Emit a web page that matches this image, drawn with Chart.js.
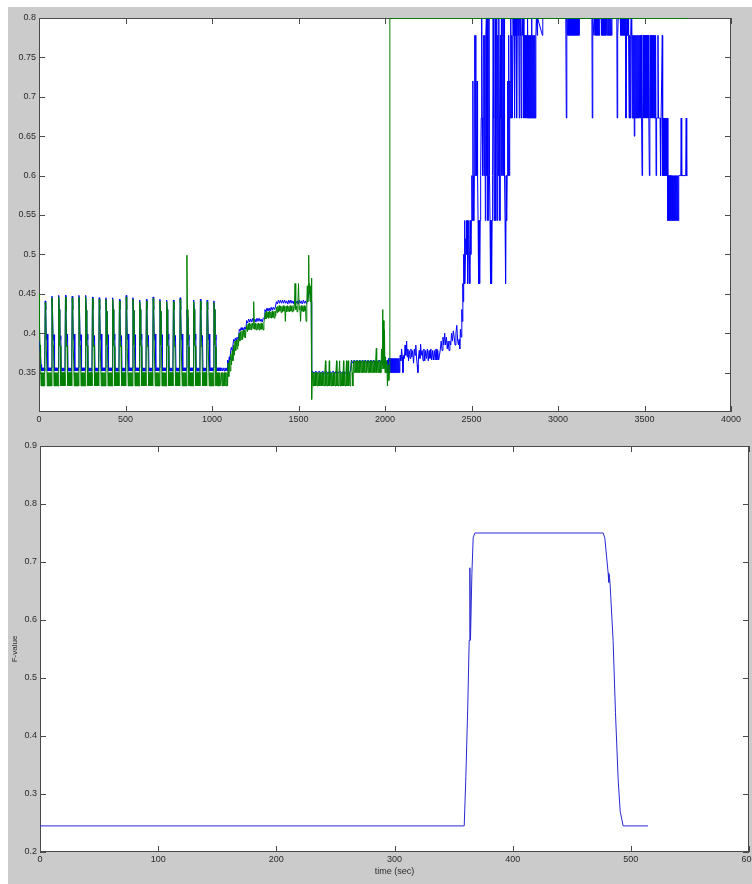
<!DOCTYPE html>
<html>
<head>
<meta charset="utf-8">
<script src="https://cdn.jsdelivr.net/npm/chart.js@4.4.1/dist/chart.umd.min.js"></script>
<style>
  html, body { margin: 0; padding: 0; width: 752px; height: 884px; overflow: hidden; background: #ffffff; }
  #fig { position: absolute; left: 8px; top: 7px; right: 0; bottom: 0; background: #cbcbcb; }
  canvas { position: absolute; left: 0; }
  #topPlot { top: 0; width: 752px; height: 440px; }
  #bottomPlot { top: 430px; width: 770px; height: 454px; }
</style>
</head>
<body>
<div id="fig"></div>
<canvas id="topPlot" width="752" height="440"></canvas>
<canvas id="bottomPlot" width="770" height="454"></canvas>
<script>
// ---------- upper panel: two traces over 0..3750 s ----------
// periodic part (0..1047), one sample every STEP_A seconds
const STEP_A = 3;
const blueA = [
  .39,.386,.38,.372,.36,.352,.356,.352,.356,.352,.356,.352,
  .441,.43,.399,.392,.399,.352,.356,.352,.356,.352,.356,.352,.356,
  .447,.43,.398,.391,.398,.352,.356,.352,.356,.352,.356,.352,.356,
  .448,.43,.399,.392,.397,.352,.356,.352,.356,.352,.356,.352,.356,
  .448,.428,.397,.39,.399,.352,.356,.352,.356,.352,.356,.352,.356,
  .447,.43,.399,.392,.399,.352,.356,.352,.356,.352,.356,.352,.356,
  .448,.43,.398,.391,.398,.352,.356,.352,.356,.352,.356,.352,.356,
  .448,.429,.399,.392,.399,.352,.356,.352,.356,.352,.356,.352,.356,
  .446,.43,.397,.39,.397,.352,.356,.352,.356,.352,.356,.352,.356,
  .445,.43,.399,.392,.399,.352,.356,.352,.356,.352,.356,.352,.356,
  .445,.428,.398,.391,.398,.352,.356,.352,.356,.352,.356,.352,.356,
  .445,.43,.399,.392,.399,.352,.356,.352,.356,.352,.356,.352,.356,
  .443,.43,.397,.39,.397,.352,.356,.352,.356,.352,.356,.352,.356,
  .448,.43,.399,.392,.399,.352,.356,.352,.356,.352,.356,.352,.356,
  .445,.429,.398,.391,.398,.352,.356,.352,.356,.352,.356,.352,.356,
  .442,.43,.399,.392,.399,.352,.356,.352,.356,.352,.356,.352,.356,
  .443,.43,.397,.39,.397,.352,.356,.352,.356,.352,.356,.352,.356,
  .446,.43,.399,.392,.399,.352,.356,.352,.356,.352,.356,.352,.356,
  .443,.428,.398,.391,.398,.352,.356,.352,.356,.352,.356,.352,.356,
  .442,.43,.399,.392,.399,.352,.356,.352,.356,.352,.356,.352,.356,
  .442,.43,.397,.39,.397,.352,.356,.352,.356,.352,.356,.352,.356,
  .445,.43,.399,.392,.399,.352,.356,.352,.356,.352,.356,.352,.356,
  .43,.42,.398,.391,.398,.352,.356,.352,.356,.352,.356,.352,.356,
  .442,.43,.399,.392,.399,.352,.356,.352,.356,.352,.356,.352,.356,
  .443,.429,.397,.39,.397,.352,.356,.352,.356,.352,.356,.352,.356,
  .442,.43,.399,.392,.399,.352,.356,.352,.356,.352,.356,.352,.356,
  .441,.43,.398,.391,.398,.352,.356,.352,.356,.352,.356,.352,.356
];
const greenA = [
  .45,.41,.385,.36,.333,.35,.333,.35,.333,.35,.333,.35,
  .439,.43,.384,.384,.333,.35,.333,.35,.333,.35,.333,.35,.333,
  .445,.43,.385,.383,.333,.35,.333,.35,.333,.35,.333,.35,.333,
  .446,.43,.384,.384,.333,.35,.333,.35,.333,.35,.333,.35,.333,
  .446,.428,.383,.384,.333,.35,.333,.35,.333,.35,.333,.35,.333,
  .445,.43,.384,.384,.333,.35,.333,.35,.333,.35,.333,.35,.333,
  .446,.43,.385,.383,.333,.35,.333,.35,.333,.35,.333,.35,.333,
  .446,.429,.384,.384,.333,.35,.333,.35,.333,.35,.333,.35,.333,
  .444,.43,.383,.384,.333,.35,.333,.35,.333,.35,.333,.35,.333,
  .443,.43,.384,.384,.333,.35,.333,.35,.333,.35,.333,.35,.333,
  .443,.428,.385,.383,.333,.35,.333,.35,.333,.35,.333,.35,.333,
  .443,.43,.384,.384,.333,.35,.333,.35,.333,.35,.333,.35,.333,
  .441,.43,.383,.384,.333,.35,.333,.35,.333,.35,.333,.35,.333,
  .446,.43,.384,.384,.333,.35,.333,.35,.333,.35,.333,.35,.333,
  .443,.429,.385,.383,.333,.35,.333,.35,.333,.35,.333,.35,.333,
  .44,.43,.384,.384,.333,.35,.333,.35,.333,.35,.333,.35,.333,
  .441,.43,.383,.384,.333,.35,.333,.35,.333,.35,.333,.35,.333,
  .444,.43,.384,.384,.333,.35,.333,.35,.333,.35,.333,.35,.333,
  .441,.428,.385,.383,.333,.35,.333,.35,.333,.35,.333,.35,.333,
  .44,.43,.384,.384,.333,.35,.333,.35,.333,.35,.333,.35,.333,
  .44,.43,.383,.384,.333,.35,.333,.35,.333,.35,.333,.35,.333,
  .443,.43,.384,.384,.333,.35,.333,.35,.333,.35,.333,.35,.333,
  .499,.43,.385,.383,.333,.35,.333,.35,.333,.35,.333,.35,.333,
  .44,.43,.384,.384,.333,.35,.333,.35,.333,.35,.333,.35,.333,
  .441,.429,.383,.384,.333,.35,.333,.35,.333,.35,.333,.35,.333,
  .44,.43,.384,.384,.333,.35,.333,.35,.333,.35,.333,.35,.333,
  .439,.43,.385,.383,.333,.35,.333,.35,.333,.35,.333,.35,.333
];

// ramp, drop and rise (1050..3750), as [time, value] pairs
const blueRest = [
  [1050,.352],[1055,.356],[1060,.352],[1065,.356],[1070,.352],[1075,.356],[1080,.352],[1085,.356],[1088,.352],
  [1090,.366],[1095,.362],[1100,.37],[1104,.366],[1108,.378],[1112,.382],[1116,.378],[1120,.383],[1125,.392],
  [1130,.39],[1135,.394],[1140,.39],[1145,.395],[1152,.392],[1158,.405],[1163,.403],[1168,.407],[1173,.404],
  [1178,.407],[1184,.404],[1190,.408],[1196,.405],[1200,.416],[1206,.413],[1212,.418],[1218,.414],[1224,.418],
  [1230,.414],[1236,.419],[1242,.415],[1248,.418],[1254,.414],[1260,.419],[1266,.415],[1272,.419],[1278,.415],
  [1284,.418],[1290,.414],[1296,.419],[1302,.42],[1306,.43],[1312,.427],[1318,.432],[1324,.428],[1330,.432],
  [1336,.428],[1342,.433],[1348,.429],[1354,.433],[1360,.43],[1366,.433],[1372,.44],[1378,.437],[1384,.442],
  [1390,.438],[1396,.442],[1402,.438],[1408,.442],[1414,.438],[1420,.442],[1426,.438],[1432,.441],[1438,.437],
  [1444,.442],[1450,.438],[1456,.442],[1462,.438],[1468,.441],[1474,.437],[1480,.442],[1486,.438],[1492,.441],
  [1498,.437],[1504,.442],[1510,.438],[1516,.441],[1522,.437],[1528,.442],[1534,.438],[1540,.441],[1546,.437],
  [1552,.442],[1558,.448],[1564,.455],[1570,.45],[1574,.44],[1576,.35],
  [1580,.352],[1590,.349],[1600,.352],[1610,.349],[1620,.352],[1630,.349],[1640,.352],[1650,.349],[1660,.352],
  [1670,.349],[1680,.352],[1690,.349],[1700,.352],[1710,.349],[1720,.352],[1730,.349],[1740,.352],[1750,.349],
  [1760,.352],[1770,.349],[1780,.352],[1790,.349],[1800,.352],[1806,.366],[1814,.362],[1822,.366],[1830,.362],
  [1838,.366],[1846,.362],[1854,.366],[1862,.362],[1870,.366],[1878,.362],[1886,.366],[1894,.362],[1902,.366],
  [1910,.362],[1918,.366],[1926,.362],[1934,.366],[1942,.362],[1950,.366],[1958,.362],[1966,.366],[1974,.362],
  [1982,.366],[1990,.362],[1998,.366],[2006,.362],[2014,.366],
  [2017,.35],[2020,.368],[2023,.35],[2026,.368],[2029,.35],[2032,.368],[2035,.35],[2038,.368],[2041,.35],
  [2044,.368],[2047,.35],[2050,.368],[2053,.35],[2056,.368],[2059,.35],[2062,.368],[2065,.35],[2068,.368],
  [2071,.35],[2074,.368],[2077,.35],[2080,.368],[2083,.35],[2086,.368],
  [2088,.372],[2092,.365],[2096,.38],[2100,.37],[2104,.35],[2108,.372],[2112,.368],[2116,.385],[2120,.372],
  [2125,.39],[2128,.37],[2132,.38],[2136,.365],[2140,.378],[2145,.368],[2150,.38],[2155,.37],[2160,.378],
  [2165,.362],[2170,.38],[2174,.372],[2178,.385],[2182,.37],[2186,.36],[2190,.35],[2194,.37],[2198,.378],
  [2202,.368],[2206,.386],[2210,.372],[2215,.378],[2220,.365],[2225,.38],[2230,.365],[2235,.378],[2240,.368],
  [2245,.38],[2250,.365],[2255,.378],[2260,.368],[2265,.38],[2270,.366],[2275,.378],[2280,.366],[2285,.378],
  [2290,.366],[2295,.38],[2300,.366],[2305,.378],[2310,.366],[2315,.372],[2320,.38],[2325,.39],[2330,.378],
  [2335,.395],[2340,.385],[2345,.4],[2350,.385],[2355,.395],[2360,.38],[2365,.39],[2370,.378],[2375,.39],
  [2380,.385],[2385,.4],[2390,.39],[2395,.403],[2400,.395],[2405,.385],[2410,.4],[2415,.41],[2420,.39],
  [2425,.385],[2428,.392],
  [2432,.38],[2436,.405],[2440,.395],[2444,.43],[2447,.415],[2450,.463],[2452,.44],[2455,.5],[2457,.463],
  [2460,.543],[2462,.463],[2465,.5],[2467,.52],[2469,.5],[2471,.543],[2473,.5],[2476,.543],[2478,.463],
  [2481,.5],[2484,.543],[2487,.5],[2490,.463],[2493,.543],[2496,.5],[2499,.543],[2502,.6],[2505,.543],
  [2508,.72],[2510,.6],[2513,.543],[2516,.6],[2519,.778],[2521,.6],[2524,.778],[2526,.673],[2529,.6],
  [2532,.72],[2535,.6],[2538,.543],[2541,.463],[2544,.543],[2547,.463],[2550,.543],[2553,.6],[2556,.673],
  [2559,.8],[2562,.673],[2565,.6],[2568,.673],[2571,.778],[2574,.6],[2577,.778],[2580,.543],[2583,.778],
  [2586,.8],[2589,.6],[2592,.8],[2595,.543],[2598,.6],[2601,.8],[2604,.6],[2607,.543],[2610,.463],
  [2613,.543],[2616,.463],[2619,.543],[2622,.6],[2625,.8],[2628,.673],[2631,.543],[2634,.6],[2637,.8],
  [2640,.543],[2643,.673],[2646,.8],[2649,.543],[2652,.778],[2655,.6],[2658,.8],[2661,.673],[2664,.543],
  [2667,.778],[2670,.673],[2673,.8],[2676,.6],[2679,.673],[2682,.8],[2685,.6],[2688,.8],[2691,.6],
  [2694,.543],[2697,.463],[2700,.6],[2703,.543],[2706,.6],[2709,.72],[2712,.6],[2715,.778],[2718,.6],
  [2721,.72],[2724,.673],[2727,.8],[2730,.673],[2733,.778],[2736,.673],[2740,.8],
  [2743,.778],[2746,.8],[2749,.673],[2752,.8],[2755,.778],[2758,.8],[2761,.673],[2764,.778],[2767,.8],
  [2770,.778],[2773,.8],[2776,.673],[2779,.8],[2782,.778],[2785,.8],[2788,.673],[2791,.778],[2794,.8],
  [2797,.778],[2800,.8],[2803,.673],[2806,.778],[2809,.673],[2812,.778],[2815,.673],[2818,.778],[2821,.673],
  [2824,.8],[2827,.673],[2830,.778],[2833,.673],[2836,.778],[2839,.673],[2842,.778],[2845,.673],[2848,.8],
  [2851,.673],[2854,.778],[2857,.673],[2860,.778],[2863,.673],[2866,.778],[2869,.673],[2872,.778],[2875,.8],
  [2880,.778],[2882,.8],[2910,.778],[2912,.8],[3045,.8],[3048,.673],[3050,.778],[3052,.8],
  [3055,.778],[3058,.8],[3061,.778],[3064,.8],[3067,.778],[3070,.8],[3073,.778],[3076,.8],[3079,.778],
  [3082,.8],[3085,.778],[3088,.8],[3091,.778],[3094,.8],[3097,.778],[3100,.8],[3103,.778],[3106,.8],
  [3109,.778],[3112,.8],[3115,.778],[3118,.8],[3121,.778],[3124,.8],
  [3196,.8],[3198,.673],[3200,.778],[3202,.8],
  [3208,.778],[3211,.8],[3214,.778],[3217,.8],[3220,.778],[3223,.8],[3226,.778],[3229,.8],[3232,.778],
  [3235,.8],[3238,.778],[3241,.8],[3250,.8],[3253,.778],[3256,.8],[3259,.778],[3262,.8],[3265,.778],
  [3268,.8],[3271,.778],[3274,.8],[3277,.778],[3280,.8],[3285,.778],[3288,.8],[3291,.778],[3294,.8],
  [3297,.778],[3300,.8],[3303,.778],[3306,.8],[3309,.778],[3312,.8],[3340,.8],[3342,.673],[3345,.778],
  [3348,.8],[3360,.8],[3363,.778],[3366,.8],[3369,.778],[3372,.8],[3375,.778],[3378,.8],[3381,.778],
  [3384,.8],[3387,.778],[3390,.8],[3393,.673],[3396,.778],[3399,.8],[3402,.778],[3405,.8],[3408,.778],
  [3411,.673],[3414,.778],
  [3417,.673],[3420,.778],[3423,.8],[3426,.778],[3429,.673],[3432,.778],[3435,.673],[3438,.778],[3441,.65],
  [3444,.778],[3447,.673],[3450,.778],[3453,.673],[3456,.778],[3459,.673],[3462,.778],[3465,.673],[3468,.778],
  [3471,.673],[3474,.778],[3477,.673],[3480,.778],[3483,.673],[3486,.6],[3489,.673],[3492,.778],[3495,.673],
  [3498,.778],[3501,.673],[3504,.778],[3507,.673],[3510,.778],[3513,.673],[3516,.778],[3519,.673],[3522,.778],
  [3525,.673],[3528,.6],[3531,.673],[3534,.778],[3537,.673],[3540,.778],[3543,.673],[3546,.778],[3549,.673],
  [3552,.778],[3555,.673],[3558,.778],[3561,.673],[3564,.778],[3567,.6],[3570,.673],
  [3575,.673],[3578,.778],[3581,.673],[3590,.673],[3593,.6],[3596,.673],[3600,.673],[3603,.778],[3605,.6],
  [3608,.673],[3611,.6],[3614,.673],[3617,.6],[3620,.673],[3623,.6],[3626,.673],[3629,.6],[3632,.673],
  [3635,.543],[3638,.6],[3641,.543],[3644,.6],[3647,.543],[3650,.6],[3653,.543],[3656,.6],[3659,.543],
  [3662,.6],[3665,.543],[3668,.6],[3671,.543],[3674,.6],[3677,.543],[3680,.6],[3683,.543],[3686,.6],
  [3689,.543],[3692,.6],[3695,.543],[3698,.6],
  [3710,.6],[3712,.673],[3715,.6],[3738,.6],[3741,.673],[3744,.6],[3748,.6]
];
const greenRest = [
  [1050,.333],[1054,.35],[1058,.333],[1062,.35],[1066,.333],[1070,.35],[1074,.333],[1078,.35],[1082,.333],
  [1086,.35],[1090,.333],[1093,.362],[1097,.345],[1101,.366],[1105,.352],[1109,.374],[1113,.36],[1117,.378],
  [1121,.365],[1125,.385],[1129,.372],[1133,.39],[1137,.378],[1141,.391],[1145,.38],[1149,.392],[1153,.384],
  [1157,.4],[1161,.39],[1165,.402],[1169,.392],[1173,.403],[1177,.392],[1181,.404],[1185,.395],[1189,.404],
  [1193,.394],[1197,.406],[1201,.41],[1205,.402],[1209,.412],[1213,.404],[1217,.413],[1221,.405],[1225,.412],
  [1229,.404],[1233,.413],[1237,.406],[1241,.44],[1244,.412],[1248,.405],[1252,.413],[1256,.404],[1260,.412],
  [1264,.405],[1268,.413],[1272,.404],[1276,.412],[1280,.405],[1284,.413],[1288,.405],[1292,.412],[1296,.404],
  [1300,.413],[1304,.42],[1308,.426],[1312,.418],[1316,.428],[1320,.42],[1324,.427],[1328,.419],[1332,.428],
  [1336,.42],[1340,.427],[1344,.419],[1348,.428],[1352,.42],[1356,.427],[1360,.419],[1364,.428],[1368,.422],
  [1372,.433],[1376,.426],[1380,.434],[1384,.427],[1388,.435],[1392,.428],[1396,.434],[1400,.426],[1404,.434],
  [1408,.427],[1412,.435],[1416,.428],[1420,.434],[1424,.415],[1428,.434],[1432,.427],[1436,.435],[1440,.428],
  [1444,.434],[1448,.427],[1452,.435],[1456,.428],[1460,.434],[1464,.427],[1468,.435],[1472,.428],[1476,.434],
  [1480,.463],[1484,.43],[1488,.434],[1492,.427],[1496,.435],[1500,.463],[1504,.43],[1508,.434],[1512,.415],
  [1516,.435],[1520,.428],[1524,.434],[1528,.427],[1532,.435],[1536,.428],[1540,.434],[1544,.415],[1548,.44],
  [1551,.46],[1554,.44],[1557,.462],[1559,.499],[1561,.45],[1564,.463],[1567,.44],[1570,.46],[1573,.44],
  [1575,.47],[1577,.316],
  [1580,.35],[1584,.333],[1588,.35],[1592,.333],[1596,.35],[1600,.333],[1604,.35],[1608,.333],[1612,.35],
  [1616,.333],[1620,.35],[1624,.333],[1628,.35],[1632,.333],[1636,.35],[1640,.333],[1644,.35],[1648,.333],
  [1652,.35],[1656,.365],[1658,.333],[1662,.35],[1666,.333],[1670,.35],[1674,.333],[1678,.365],[1680,.333],
  [1684,.35],[1688,.333],[1692,.35],[1696,.333],[1700,.35],[1704,.333],[1708,.35],[1712,.333],[1716,.35],
  [1720,.365],[1722,.333],[1726,.35],[1730,.333],[1734,.35],[1738,.365],[1740,.333],[1744,.35],[1748,.333],
  [1752,.35],[1756,.333],[1760,.365],[1762,.333],[1766,.35],[1770,.333],[1774,.35],[1778,.365],[1780,.333],
  [1784,.35],[1788,.365],[1790,.333],[1794,.35],[1798,.333],[1802,.35],[1806,.365],[1810,.35],[1814,.333],
  [1818,.365],[1822,.35],[1826,.365],[1830,.35],[1834,.365],[1838,.35],[1842,.365],[1846,.35],[1850,.365],
  [1854,.35],[1858,.365],[1862,.35],[1866,.365],[1870,.35],[1874,.365],[1878,.35],[1882,.365],[1886,.35],
  [1890,.365],[1894,.35],[1898,.365],[1902,.35],[1906,.365],[1910,.35],[1914,.365],[1918,.35],[1922,.365],
  [1926,.35],[1930,.365],[1934,.35],[1938,.365],[1942,.35],[1946,.365],[1950,.381],[1952,.35],[1956,.365],
  [1960,.35],[1964,.365],[1968,.35],[1972,.365],[1976,.35],[1980,.38],[1983,.355],[1986,.43],[1988,.36],
  [1991,.416],[1994,.355],[1997,.404],[2000,.35],[2003,.37],[2006,.35],[2010,.365],[2014,.333],[2018,.36],
  [2022,.34],[2025,.35],[2028,.7995],[3750,.7995]
];
const topXTicks = [0, 500, 1000, 1500, 2000, 2500, 3000, 3500, 4000];
const topYTicks = [0.35, 0.4, 0.45, 0.5, 0.55, 0.6, 0.65, 0.7, 0.75, 0.8];

// ---------- lower panel: F-value against time ----------
const fTime = [0, 359, 360.4, 362, 363.2, 363.8, 364.3, 365.5, 366.6, 368, 370, 476.6, 478, 480.8, 481.3, 481.8, 482.5, 485, 487, 489.3, 491, 493.5, 514.6];
const fValue = [.245, .245, .33, .45, .565, .69, .565, .68, .742, .75, .75, .75, .741, .681, .665, .678, .66, .565, .44, .324, .27, .245, .245];
const botXTicks = [0, 100, 200, 300, 400, 500, 600];
const botYTicks = [0.2, 0.3, 0.4, 0.5, 0.6, 0.7, 0.8, 0.9];

// ---------- shared styling ----------
const FONT = { family: "'Liberation Sans', Arial, Helvetica, sans-serif", size: 9 };
const TEXT = '#2b2b2b';
const AXIS = '#4a4a4a';
const TICK_LEN = 6;
const BLUE = '#0000ff';
const GREEN = '#008000';

function sampled(values, step) { return values.map((y, i) => ({ x: i * step, y })); }
function pairs(list) { return list.map(([x, y]) => ({ x, y })); }

// white plot box, closed frame and inward tick marks on all four sides
const boxFrame = {
  id: 'boxFrame',
  beforeDraw(chart) {
    const { ctx, chartArea: a } = chart;
    ctx.save();
    ctx.fillStyle = '#ffffff';
    ctx.fillRect(a.left, a.top, a.right - a.left, a.bottom - a.top);
    ctx.restore();
  },
  beforeDatasetsDraw(chart) {
    const { ctx, chartArea: a, scales: { x, y } } = chart;
    ctx.save();
    ctx.strokeStyle = AXIS;
    ctx.lineWidth = 1;
    ctx.strokeRect(a.left + 0.5, a.top + 0.5, a.right - a.left - 1, a.bottom - a.top - 1);
    ctx.beginPath();
    x.ticks.forEach(t => {
      const p = Math.round(x.getPixelForValue(t.value)) + 0.5;
      ctx.moveTo(p, a.bottom); ctx.lineTo(p, a.bottom - TICK_LEN);
      ctx.moveTo(p, a.top); ctx.lineTo(p, a.top + TICK_LEN);
    });
    y.ticks.forEach(t => {
      const p = Math.round(y.getPixelForValue(t.value)) + 0.5;
      ctx.moveTo(a.left, p); ctx.lineTo(a.left + TICK_LEN, p);
      ctx.moveTo(a.right, p); ctx.lineTo(a.right - TICK_LEN, p);
    });
    ctx.stroke();
    ctx.restore();
  }
};

function axis(min, max, tickList, fitSize, isX, title) {
  const s = {
    type: 'linear', min, max,
    grid: { display: false, drawTicks: false },
    border: { display: false },
    ticks: {
      font: FONT, color: TEXT, padding: isX ? 2 : 3, maxRotation: 0, autoSkip: false,
      callback: v => String(+Number(v).toFixed(2))
    },
    afterBuildTicks: sc => { sc.ticks = tickList.map(v => ({ value: v })); },
    afterFit: sc => { if (isX) sc.height = fitSize; else sc.width = fitSize; }
  };
  if (title) s.title = title;
  return s;
}

const common = {
  responsive: false,
  devicePixelRatio: 1,
  animation: false,
  events: [],
  plugins: { legend: { display: false }, tooltip: { enabled: false } },
  elements: { point: { radius: 0 }, line: { borderWidth: 1, tension: 0 } }
};

new Chart(document.getElementById('topPlot'), {
  type: 'line',
  data: {
    datasets: [
      { data: sampled(greenA, STEP_A).concat(pairs(greenRest)), borderColor: GREEN, fill: false },
      { data: sampled(blueA, STEP_A).concat(pairs(blueRest)), borderColor: BLUE, fill: false }
    ]
  },
  options: Object.assign({}, common, {
    layout: { padding: { top: 18, right: 21, left: 0, bottom: 0 } },
    scales: {
      x: axis(0, 4000, topXTicks, 28, true),
      y: axis(0.3, 0.8, topYTicks, 39, false)
    }
  }),
  plugins: [boxFrame]
});

new Chart(document.getElementById('bottomPlot'), {
  type: 'line',
  data: {
    datasets: [
      { data: fTime.map((t, i) => ({ x: t, y: fValue[i] })), borderColor: '#2828d2', fill: false }
    ]
  },
  options: Object.assign({}, common, {
    layout: { padding: { top: 16, right: 21, left: 0, bottom: 0 } },
    scales: {
      x: axis(0, 600, botXTicks, 32, true,
        { display: true, text: 'time (sec)', font: FONT, color: TEXT, padding: { top: 0, bottom: 6.6 } }),
      y: axis(0.2, 0.9, botYTicks, 40, false,
        { display: true, text: 'F-value', font: { family: FONT.family, size: 8 }, color: TEXT, padding: { top: 10, bottom: 0 } })
    }
  }),
  plugins: [boxFrame]
});
</script>
</body>
</html>
